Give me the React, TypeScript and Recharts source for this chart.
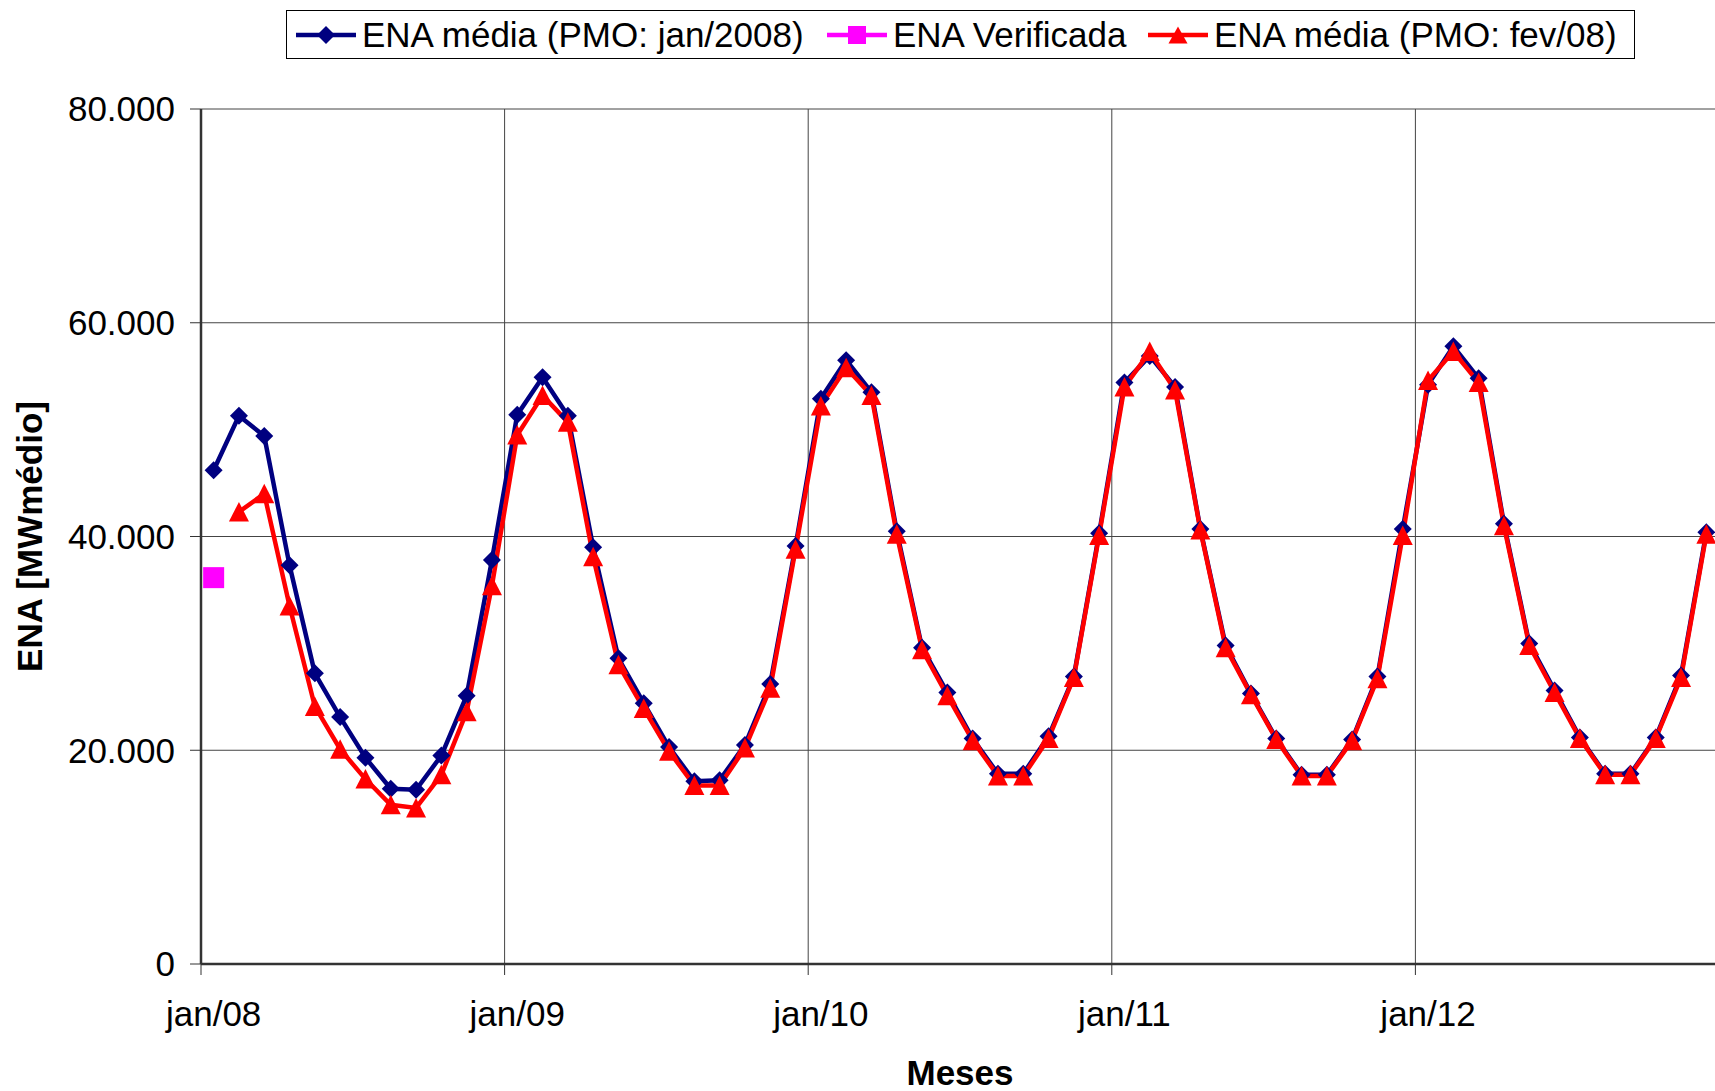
import { LineChart, Line, XAxis, YAxis, CartesianGrid, Label } from "recharts";

const monthNames = ["jan", "fev", "mar", "abr", "mai", "jun", "jul", "ago", "set", "out", "nov", "dez"];
const years = ["08", "09", "10", "11", "12"];
const months = years.flatMap((y) => monthNames.map((m) => `${m}/${y}`));
const yearTicks = ["jan/08", "jan/09", "jan/10", "jan/11", "jan/12"];
const yTicks = [0, 20000, 40000, 60000, 80000];

// ENA média (PMO: jan/2008)
const enaJan2008 = [
  46200, 51300, 49400, 37300, 27200, 23100, 19300, 16400, 16300, 19500, 25100, 37800,
  51400, 54900, 51300, 39000, 28600, 24400, 20300, 17100, 17200, 20500, 26200, 39100,
  52900, 56500, 53500, 40500, 29600, 25400, 21100, 17800, 17800, 21300, 26900, 40300,
  54400, 56900, 54000, 40700, 29800, 25300, 21100, 17700, 17700, 21000, 26900, 40700,
  54200, 57800, 54800, 41200, 30000, 25600, 21200, 17800, 17800, 21200, 27000, 40400,
];

// ENA média (PMO: fev/08) - starts in fev/08
const enaFev08 = [
  null, 42300, 44000, 33500, 24100, 20100, 17300, 14900, 14600, 17700, 23600, 35400,
  49500, 53200, 50700, 38100, 28000, 23900, 19900, 16700, 16700, 20200, 25800, 38800,
  52200, 55800, 53200, 40200, 29400, 25100, 20900, 17600, 17600, 21100, 26800, 40100,
  54000, 57300, 53700, 40600, 29600, 25200, 21000, 17600, 17600, 20900, 26700, 40100,
  54600, 57300, 54400, 41000, 29800, 25400, 21100, 17700, 17700, 21100, 26800, 40200,
];

// ENA Verificada (only jan/08)
const enaVerificada = [36150];

const data = months.map((mes, i) => ({
  mes,
  pos: i + 0.5,
  jan: enaJan2008[i],
  fev: enaFev08[i] ?? null,
  ver: enaVerificada[i] ?? null,
}));

const FONT = "'Liberation Sans', Arial, sans-serif";
const W = 1720;
const H = 1091;
const LEFT = 201;
const PLOT_W = W - LEFT - 1;
const HALF_MONTH = PLOT_W / months.length / 2;

const BLUE = "#000080";
const RED = "#ff0000";
const PINK = "#ff00ff";

const fmt = (v: number) => String(v).replace(/\B(?=(\d{3})+(?!\d))/g, ".");

const Diamond = (p: any) => {
  if (p.cx == null || p.cy == null) return <g key={`dm-${p.index}`} />;
  const { cx, cy } = p;
  return (
    <polygon key={`dm-${p.index}`} points={`${cx},${cy - 9} ${cx + 9},${cy} ${cx},${cy + 9} ${cx - 9},${cy}`} fill={BLUE} />
  );
};

const Triangle = (p: any) => {
  if (p.cx == null || p.cy == null) return <g key={`tr-${p.index}`} />;
  const { cx, cy } = p;
  return (
    <polygon key={`tr-${p.index}`} points={`${cx},${cy - 10} ${cx + 10},${cy + 9.5} ${cx - 10},${cy + 9.5}`} fill={RED} />
  );
};

const Square = (p: any) => {
  if (p.cx == null || p.cy == null) return <g key={`sq-${p.index}`} />;
  const { cx, cy } = p;
  return <rect key={`sq-${p.index}`} x={cx - 10.5} y={cy - 10.5} width={21} height={21} fill={PINK} />;
};

const MonthTick = ({ x, y, payload }: any) => (
  <text x={x + HALF_MONTH} y={y + 49} textAnchor="middle" fontSize={35} fontFamily={FONT} fill="#000">
    {months[payload.value]}
  </text>
);

const YTitle = ({ viewBox }: any) => {
  const x = viewBox.x + 41.5;
  const y = viewBox.y + viewBox.height / 2;
  return (
    <text x={x} y={y} transform={`rotate(-90, ${x}, ${y})`} textAnchor="middle" fontSize={35} fontWeight="bold" fontFamily={FONT} fill="#000">
      ENA [MWmédio]
    </text>
  );
};

const XTitle = ({ viewBox }: any) => (
  <text x={viewBox.x + viewBox.width / 2} y={viewBox.y + 121} textAnchor="middle" fontSize={35} fontWeight="bold" fontFamily={FONT} fill="#000">
    Meses
  </text>
);

const legendItems = [
  { name: "ENA média (PMO: jan/2008)", color: BLUE, shape: "diamond", left: 9 },
  { name: "ENA Verificada", color: PINK, shape: "square", left: 540 },
  { name: "ENA média (PMO: fev/08)", color: RED, shape: "triangle", left: 861 },
];

const LegendIcon = ({ color, shape }: { color: string; shape: string }) => (
  <svg width={60} height={24} style={{ display: "block" }}>
    <line x1={0} y1={12} x2={60} y2={12} stroke={color} strokeWidth={4.5} />
    {shape === "diamond" && <polygon points="30,3 39,12 30,21 21,12" fill={color} />}
    {shape === "square" && <rect x={21} y={3} width={18} height={18} fill={color} />}
    {shape === "triangle" && <polygon points="30,3.5 39.5,20.5 20.5,20.5" fill={color} />}
  </svg>
);

const ChartLegend = () => (
  <div
    style={{
      position: "absolute",
      left: 286,
      top: 10,
      width: 1349,
      height: 49,
      border: "1px solid #000",
      background: "#fff",
      boxSizing: "border-box",
      fontFamily: FONT,
      fontSize: 35,
      color: "#000",
      whiteSpace: "nowrap",
    }}
  >
    {legendItems.map((item) => (
      <div
        key={item.name}
        style={{ position: "absolute", left: item.left, top: 0, height: 47, display: "flex", alignItems: "center" }}
      >
        <LegendIcon color={item.color} shape={item.shape} />
        <span style={{ marginLeft: 6 }}>{item.name}</span>
      </div>
    ))}
  </div>
);

export default function App() {
  return (
    <div style={{ position: "absolute", left: 0, top: 0, width: 1715, height: H, overflow: "hidden", background: "#fff" }}>
      <LineChart width={W} height={H} data={data} margin={{ top: 109, right: 1, bottom: 0, left: 0 }}>
        <CartesianGrid stroke="#444" strokeWidth={1} />
        <XAxis
          type="number"
          dataKey="pos"
          domain={[0, months.length]}
          ticks={yearTicks.map((t) => months.indexOf(t))}
          tick={<MonthTick />}
          tickSize={11}
          tickLine={{ stroke: "#333", strokeWidth: 1 }}
          axisLine={{ stroke: "#333", strokeWidth: 2.5 }}
          height={127}
          allowDataOverflow
        >
          <Label content={<XTitle />} />
        </XAxis>
        <YAxis
          domain={[0, 80000]}
          ticks={yTicks}
          width={LEFT}
          tickFormatter={fmt}
          tickSize={11}
          tickMargin={15}
          tick={{ fontSize: 35, fill: "#000", fontFamily: FONT }}
          tickLine={{ stroke: "#333", strokeWidth: 1 }}
          axisLine={{ stroke: "#333", strokeWidth: 2.5 }}
        >
          <Label content={<YTitle />} />
        </YAxis>
        <Line dataKey="jan" stroke={BLUE} strokeWidth={4.5} dot={Diamond} activeDot={false} isAnimationActive={false} />
        <Line dataKey="ver" stroke={PINK} strokeWidth={4.5} dot={Square} activeDot={false} isAnimationActive={false} />
        <Line dataKey="fev" stroke={RED} strokeWidth={4.5} dot={Triangle} activeDot={false} isAnimationActive={false} />
      </LineChart>
      <ChartLegend />
    </div>
  );
}
